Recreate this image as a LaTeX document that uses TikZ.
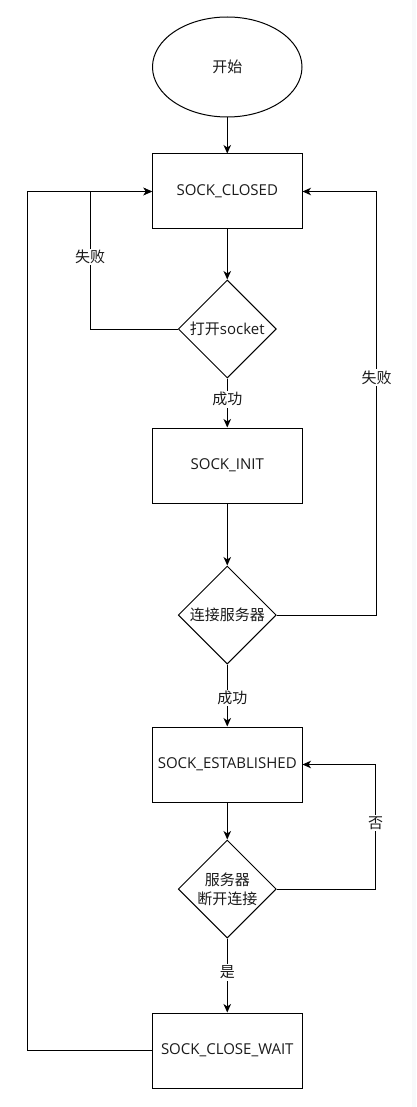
\documentclass[tikz,border=0pt]{standalone}
\usepackage{fontspec}
\setmainfont{Open Sans}
\newfontfamily\cjk{Noto Sans CJK SC}
\usetikzlibrary{shapes.geometric,arrows.meta}
\definecolor{inkc}{HTML}{1A1A1A}
\definecolor{edgegray}{HTML}{F8F9FB}
\tikzset{
  base/.style={draw=black, text=inkc, line width=1pt, font=\fontsize{15}{19}\selectfont, align=center, inner sep=0pt},
  statebox/.style={base, rectangle, minimum width=149.5pt, minimum height=75pt},
  startnode/.style={base, ellipse, minimum width=149.5pt, minimum height=100pt},
  decision/.style={base, diamond, aspect=1, minimum width=98pt, minimum height=98pt},
  conn/.style={draw=black, line width=1pt, -{Stealth[length=8.5pt,width=7.5pt,inset=2.5pt]}},
  edgelabel/.style={fill=white, text=inkc, inner sep=1.5pt, font=\cjk\fontsize{15}{16}\selectfont}
}
\begin{document}
\begin{tikzpicture}[x=1pt,y=-1pt]
\useasboundingbox (0,0) rectangle (416,1107);
\fill[white] (0,0) rectangle (416,1107);
\fill[edgegray] (411.5,0) rectangle (416,1107);

\node[startnode] (start) at (227.25,67) {\cjk 开始};
\node[statebox] (closed) at (227.25,191.5) {SOCK\_CLOSED};
\node[decision] (d1) at (227.25,329) {{\cjk 打开}socket};
\node[statebox] (init) at (227.25,465.5) {SOCK\_INIT};
\node[decision] (d2) at (227.25,615) {\cjk 连接服务器};
\node[statebox] (est) at (227.25,764.5) {SOCK\_ESTABLISHED};
\node[decision] (d3) at (227.25,889) {\cjk 服务器\\\cjk 断开连接};
\node[statebox] (wait) at (227.25,1050.5) {SOCK\_CLOSE\_WAIT};

\coordinate (lx) at (90,191.5);
\coordinate (ox) at (27,191.5);
\coordinate (rx) at (376.5,191.5);
\coordinate (ex) at (375.5,764.5);

\draw[conn] (start) -- (closed);
\draw[conn] (closed) -- (d1);
\draw[conn] (d1) -- node[edgelabel, pos=0.42] {成功} (init);
\draw[conn] (init) -- (d2);
\draw[conn] (d2) -- node[edgelabel, pos=0.54, xshift=5pt] {成功} (est);
\draw[conn] (est) -- (d3);
\draw[conn] (d3) -- node[edgelabel, pos=0.46] {是} (wait);

\draw[conn] (d1.west) -| node[edgelabel, pos=0.762] {失败} (lx) -- (closed.west);
\draw[conn] (wait.west) -| (ox) -- (closed.west);
\draw[conn] (d2.east) -| node[edgelabel, pos=0.78] {失败} (rx) -- (closed.east);
\draw[conn] (d3.east) -| node[edgelabel, pos=0.765] {否} (ex) -- (est.east);
\end{tikzpicture}
\end{document}
